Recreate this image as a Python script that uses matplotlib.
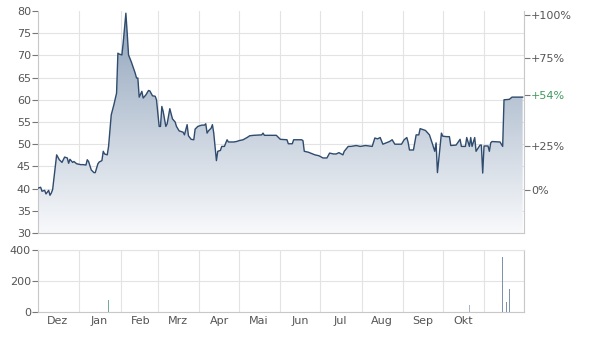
import numpy as np
import pandas as pd
import matplotlib
matplotlib.use('Agg')
import matplotlib.pyplot as plt
import matplotlib.dates as mdates
from matplotlib.colors import LinearSegmentedColormap

# Kursverlauf
dates = [
    '2022-12-01', '2022-12-03', '2022-12-04', '2022-12-06', '2022-12-07', '2022-12-09',
    '2022-12-10', '2022-12-11', '2022-12-12', '2022-12-15', '2022-12-17', '2022-12-19',
    '2022-12-21', '2022-12-23', '2022-12-24', '2022-12-25', '2022-12-27', '2022-12-28',
    '2022-12-30', '2023-01-02', '2023-01-04', '2023-01-06', '2023-01-07', '2023-01-08',
    '2023-01-10', '2023-01-12', '2023-01-13', '2023-01-15', '2023-01-16', '2023-01-18',
    '2023-01-19', '2023-01-20', '2023-01-22', '2023-01-23', '2023-01-25', '2023-01-27',
    '2023-01-29', '2023-01-30', '2023-01-31', '2023-02-02', '2023-02-03', '2023-02-05',
    '2023-02-06', '2023-02-07', '2023-02-09', '2023-02-12', '2023-02-13', '2023-02-14',
    '2023-02-15', '2023-02-17', '2023-02-18', '2023-02-20', '2023-02-22', '2023-02-23',
    '2023-02-25', '2023-02-27', '2023-02-28', '2023-03-02', '2023-03-03', '2023-03-04',
    '2023-03-05', '2023-03-07', '2023-03-08', '2023-03-10', '2023-03-12', '2023-03-14',
    '2023-03-15', '2023-03-17', '2023-03-20', '2023-03-21', '2023-03-23', '2023-03-24',
    '2023-03-26', '2023-03-28', '2023-03-29', '2023-03-31', '2023-04-03', '2023-04-05',
    '2023-04-06', '2023-04-07', '2023-04-08', '2023-04-10', '2023-04-11', '2023-04-12',
    '2023-04-14', '2023-04-15', '2023-04-17', '2023-04-18', '2023-04-20', '2023-04-22',
    '2023-04-23', '2023-04-27', '2023-04-29', '2023-05-01', '2023-05-04', '2023-05-07',
    '2023-05-09', '2023-05-12', '2023-05-18', '2023-05-19', '2023-05-20', '2023-05-29',
    '2023-06-01', '2023-06-06', '2023-06-07', '2023-06-10', '2023-06-11', '2023-06-17',
    '2023-06-18', '2023-06-19', '2023-06-22', '2023-06-27', '2023-06-30', '2023-07-03',
    '2023-07-06', '2023-07-08', '2023-07-11', '2023-07-13', '2023-07-15', '2023-07-18',
    '2023-07-19', '2023-07-22', '2023-07-24', '2023-07-28', '2023-07-31', '2023-08-04',
    '2023-08-09', '2023-08-11', '2023-08-13', '2023-08-15', '2023-08-17', '2023-08-22',
    '2023-08-24', '2023-08-26', '2023-08-31', '2023-09-02', '2023-09-04', '2023-09-05',
    '2023-09-06', '2023-09-09', '2023-09-11', '2023-09-13', '2023-09-14', '2023-09-18',
    '2023-09-21', '2023-09-23', '2023-09-25', '2023-09-26', '2023-09-27', '2023-09-29',
    '2023-09-30', '2023-10-01', '2023-10-04', '2023-10-06', '2023-10-07', '2023-10-11',
    '2023-10-14', '2023-10-15', '2023-10-18', '2023-10-19', '2023-10-21', '2023-10-22',
    '2023-10-23', '2023-10-25', '2023-10-26', '2023-10-29', '2023-10-30', '2023-10-31',
    '2023-11-01', '2023-11-04', '2023-11-05', '2023-11-06', '2023-11-07', '2023-11-13',
    '2023-11-15', '2023-11-16', '2023-11-20', '2023-11-22', '2023-11-30',
]
prices = [
    40.1, 40.3, 39.4, 39.6, 38.8, 39.6,
    38.5, 39.0, 39.8, 47.6, 46.5, 45.9,
    47.1, 46.9, 45.7, 46.6, 45.9, 46.1,
    45.6, 45.4, 45.4, 45.3, 46.5, 46.1,
    44.2, 43.6, 43.6, 45.6, 46.0, 46.3,
    48.4, 47.8, 47.6, 49.5, 56.6, 58.9,
    61.5, 70.5, 70.3, 70.1, 72.9, 79.5,
    75.0, 70.1, 68.6, 66.0, 64.9, 64.9,
    60.6, 61.9, 60.4, 61.1, 62.1, 62.0,
    60.9, 60.8, 60.0, 54.0, 54.0, 58.5,
    57.4, 54.0, 54.6, 58.0, 55.7, 55.0,
    54.0, 53.0, 52.7, 52.1, 54.4, 51.9,
    51.1, 51.0, 53.4, 54.0, 54.3, 54.3,
    54.6, 52.5, 53.0, 53.6, 54.4, 52.5,
    46.3, 48.4, 48.6, 49.5, 49.5, 51.0,
    50.5, 50.5, 50.6, 50.8, 51.0, 51.5,
    51.9, 52.0, 52.1, 52.5, 52.0, 52.0,
    51.1, 51.0, 50.1, 50.1, 51.0, 51.0,
    50.8, 48.4, 48.2, 47.6, 47.4, 46.9,
    46.9, 48.0, 47.8, 47.8, 48.1, 47.6,
    48.4, 49.5, 49.5, 49.7, 49.5, 49.7,
    49.5, 51.4, 51.2, 51.5, 50.0, 50.6,
    51.0, 50.0, 50.0, 51.0, 51.5, 50.4,
    48.7, 48.7, 52.1, 52.1, 53.5, 53.1,
    52.1, 50.3, 48.4, 50.3, 43.6, 49.7,
    52.5, 51.8, 51.7, 51.7, 49.7, 49.8,
    51.1, 49.5, 49.5, 51.5, 49.5, 51.5,
    49.5, 51.5, 48.4, 49.8, 49.8, 43.5,
    49.6, 49.6, 48.4, 50.3, 50.6, 50.5,
    49.5, 60.0, 60.1, 60.6, 60.6,
]

# Umsatz
vol_dates = ['2023-01-23', '2023-10-21', '2023-11-15', '2023-11-18', '2023-11-20']
vol_values = [75, 43, 355, 66, 148]
vol_colors = ['#78a898', '#a9b7c8', '#7d92ad', '#7d92ad', '#7d92ad']

month_labels = ['Dez', 'Jan', 'Feb', 'Mrz', 'Apr', 'Mai', 'Jun', 'Jul', 'Aug', 'Sep', 'Okt']
pct_ticks = [0, 25, 54, 75, 100]
base_price = 39.6

x = pd.to_datetime(dates)
xv = pd.to_datetime(vol_dates)
x_start = pd.Timestamp('2022-12-01')
x_end = pd.Timestamp('2023-12-01')

grid_col = '#e3e3e3'
spine_col = '#c8c8c8'
text_col = '#555555'
line_col = '#2f4b6e'

fig = plt.figure(figsize=(5.91, 3.37), dpi=100)
ax = fig.add_axes([0.0643, 0.3086, 0.8223, 0.6588])
axv = fig.add_axes([0.0643, 0.0742, 0.8223, 0.1840])

# Kurschart
ax.set_xlim(x_start, x_end)
ax.set_ylim(30, 80)
poly = ax.fill_between(x, prices, 30, color='none', lw=0)
grad = np.linspace(0, 1, 256).reshape(-1, 1)
cmap = LinearSegmentedColormap.from_list('fill', ['#f8f9fb', '#8ea2ba'])
im = ax.imshow(grad, aspect='auto', cmap=cmap, origin='lower',
               extent=[mdates.date2num(x_start), mdates.date2num(x_end), 30, 80], zorder=1)
im.set_clip_path(poly.get_paths()[0], transform=ax.transData)
ax.plot(x, prices, color=line_col, lw=1.0, zorder=3)

ax.set_yticks(range(30, 81, 5))
ax.xaxis.set_major_locator(mdates.MonthLocator())
ax.xaxis.set_major_formatter(plt.NullFormatter())
ax.grid(True, color=grid_col, lw=0.8, zorder=0)
ax.set_axisbelow(True)
ax.get_ygridlines()[-1].set_visible(False)
ax.tick_params(axis='x', length=0)
ax.tick_params(axis='y', length=4, width=0.8, color='#777777', labelcolor=text_col,
               labelsize=8, pad=1)
ax.spines['top'].set_visible(False)
for side in ['left', 'bottom', 'right']:
    ax.spines[side].set_color(spine_col)
    ax.spines[side].set_linewidth(0.8)

# Prozentachse rechts
sec = ax.secondary_yaxis('right', functions=(lambda p: (p / base_price - 1) * 100,
                                             lambda q: base_price * (1 + q / 100)))
sec.set_yticks(pct_ticks)
sec.set_yticklabels([('+%d%%' % t) if t > 0 else '%d%%' % t for t in pct_ticks])
sec.tick_params(length=4, width=0.8, color='#777777', labelcolor=text_col, labelsize=8, pad=1)
sec.spines['right'].set_visible(False)
for lab, t in zip(sec.get_yticklabels(), pct_ticks):
    if t == 54:
        lab.set_color('#3d9a5c')

# Umsatzchart
axv.set_xlim(x_start, x_end)
axv.set_ylim(0, 400)
axv.bar(xv, vol_values, width=1.2, color=vol_colors, zorder=3)
axv.set_yticks([0, 200, 400])
axv.xaxis.set_major_locator(mdates.MonthLocator())
axv.xaxis.set_major_formatter(plt.NullFormatter())
mid_months = pd.date_range('2022-12-01', periods=len(month_labels), freq='MS') + pd.Timedelta(days=15)
axv.set_xticks(mid_months, minor=True)
axv.set_xticklabels(month_labels, minor=True)
axv.grid(True, which='major', color=grid_col, lw=0.8, zorder=0)
axv.tick_params(axis='x', which='both', length=0, labelcolor=text_col, labelsize=8, pad=3)
axv.tick_params(axis='y', length=4, width=0.8, color='#777777', labelcolor=text_col,
                labelsize=8, pad=1)
for side in ['top', 'left', 'bottom', 'right']:
    axv.spines[side].set_color(spine_col)
    axv.spines[side].set_linewidth(0.8)
axv.spines['top'].set_color(grid_col)

fig.savefig('out.png', dpi=100)
